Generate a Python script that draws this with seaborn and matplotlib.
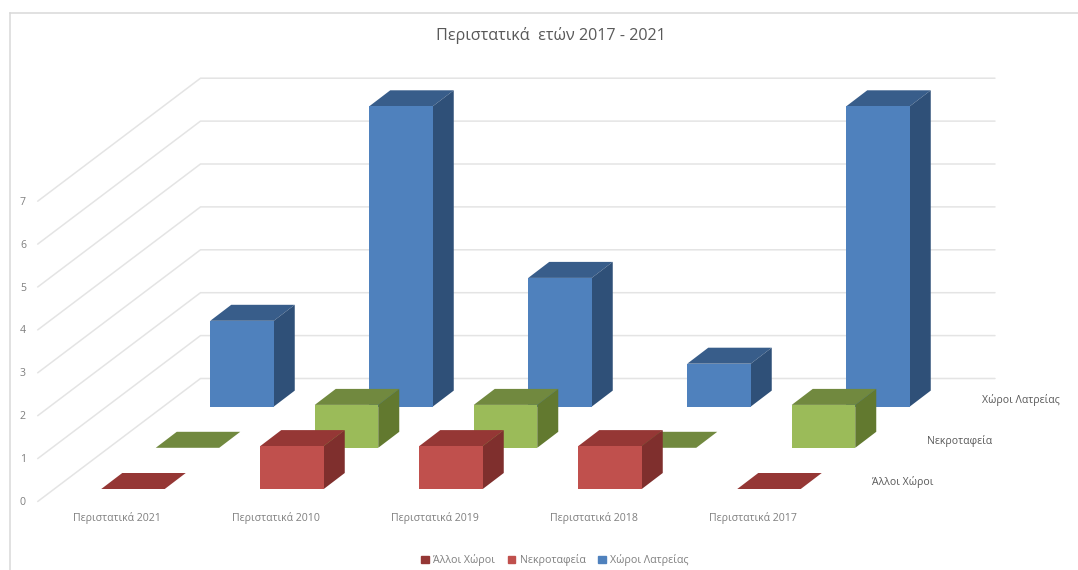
"""Περιστατικά 2017-2021: ψευδο-3D ραβδόγραμμα με πλάγια προβολή."""

import matplotlib

matplotlib.use("Agg")

import matplotlib.pyplot as plt
import pandas as pd
import seaborn as sns
from matplotlib.patches import Patch

categories = [
    "Περιστατικά 2021",
    "Περιστατικά 2010",
    "Περιστατικά 2019",
    "Περιστατικά 2018",
    "Περιστατικά 2017",
]
series_names = ["Άλλοι Χώροι", "Νεκροταφεία", "Χώροι Λατρείας"]
alloi_xoroi = [0, 1, 1, 1, 0]
nekrotafeia = [0, 1, 1, 0, 1]
xoroi_latreias = [2, 7, 3, 1, 7]
value_ticks = [0, 1, 2, 3, 4, 5, 6, 7]

# χρώματα ανά σειρά: μπροστά, πάνω, πλάι
faces = {
    "Άλλοι Χώροι": ("#c0504d", "#953735", "#7f2f2d"),
    "Νεκροταφεία": ("#9bbb59", "#71893f", "#62792f"),
    "Χώροι Λατρείας": ("#4f81bd", "#385d8a", "#2f5078"),
}
legend_colors = ["#953735", "#c0504d", "#4f81bd"]

PX_X = 159.0  # pixels ανά κατηγορία
PX_Y = 42.9  # pixels ανά μονάδα τιμής
X0 = 133.0  # κέντρο πρώτης μπροστινής μπάρας
Y0 = 489.0  # βάση μπροστινής σειράς
SERIES_DX, SERIES_DY = 54.5 / PX_X, 41.2 / PX_Y
DEPTH_DX, DEPTH_DY = 21.0 / PX_X, 16.0 / PX_Y
BAR_W = 63.5 / PX_X


def to_x(px):
    return (px - X0) / PX_X


def to_y(py):
    return (Y0 - py) / PX_Y


sns.set_theme(style="white")
plt.rcParams["font.family"] = ["Open Sans", "DejaVu Sans"]

fig = plt.figure(figsize=(10.78, 5.70), dpi=100)
ax = fig.add_axes([10 / 1078, 0, 1 - 10 / 1078, 1 - 12.5 / 570])
ax.set_xticks([])
ax.set_yticks([])
for side in ["right", "bottom"]:
    ax.spines[side].set_visible(False)
for side in ["left", "top"]:
    ax.spines[side].set_color("#d9d9d9")
    ax.spines[side].set_linewidth(1.1)

# τοίχοι: γραμμές πλέγματος
for v in value_ticks:
    ax.plot(
        [to_x(37.7), to_x(200.5), to_x(995)],
        [to_y(501.5) + v, to_y(378.5) + v, to_y(378.5) + v],
        color="#e4e4e4",
        lw=1.1,
        zorder=1,
    )
    ax.text(to_x(23), to_y(502.5) + v, str(v), ha="center", va="center", fontsize=7.6, color="#7f7f7f")

values = [alloi_xoroi, nekrotafeia, xoroi_latreias]
# από πίσω προς τα μπροστά, ώστε οι μπροστινές να καλύπτουν τις πίσω
for s in [2, 1, 0]:
    name = series_names[s]
    front, top, side = faces[name]
    base = s * SERIES_DY
    df = pd.DataFrame({"pos": [i + s * SERIES_DX for i in range(len(categories))], "value": values[s]})
    z = 10 - 2 * s
    sns.barplot(
        data=df,
        x="pos",
        y="value",
        native_scale=True,
        width=BAR_W,
        color=front,
        saturation=1,
        errorbar=None,
        bottom=base,
        linewidth=0,
        zorder=z + 1,
        ax=ax,
    )
    for pos, val in zip(df["pos"], df["value"]):
        left, right = pos - BAR_W / 2, pos + BAR_W / 2
        y_top = base + val
        ax.fill(
            [left, right, right + DEPTH_DX, left + DEPTH_DX],
            [y_top, y_top, y_top + DEPTH_DY, y_top + DEPTH_DY],
            color=top,
            lw=0,
            zorder=z,
        )
        if val > 0:
            ax.fill(
                [right, right + DEPTH_DX, right + DEPTH_DX, right],
                [base, base + DEPTH_DY, y_top + DEPTH_DY, y_top],
                color=side,
                lw=0,
                zorder=z,
            )

for i, label in enumerate(categories):
    ax.text(i - 16 / PX_X, to_y(518), label, ha="center", va="center", fontsize=7.6, color="#7f7f7f")

series_label_px = [(903, 482.5), (960, 441), (1021, 399.5)]
for name, (px, py) in zip(series_names, series_label_px):
    ax.text(to_x(px), to_y(py), name, ha="center", va="center", fontsize=7.6, color="#595959")

ax.text(to_x(551), to_y(35), "Περιστατικά  ετών 2017 - 2021", ha="center", va="center", fontsize=11.6, color="#595959")

handles = [Patch(color=c, label=n) for c, n in zip(legend_colors, series_names)]
ax.legend(
    handles=handles,
    loc="center",
    bbox_to_anchor=(to_x(555), to_y(560)),
    bbox_transform=ax.transData,
    ncol=3,
    frameon=False,
    fontsize=7.7,
    labelcolor="#7f7f7f",
    handlelength=0.7,
    handleheight=0.7,
    handletextpad=0.4,
    columnspacing=1.2,
)

ax.set_xlabel("")
ax.set_ylabel("")
ax.set_xticks([])
ax.set_yticks([])
ax.set_xlim(to_x(10), to_x(1078))
ax.set_ylim(to_y(570), to_y(12.5))

fig.savefig("out.png", dpi=100)
plt.close(fig)
